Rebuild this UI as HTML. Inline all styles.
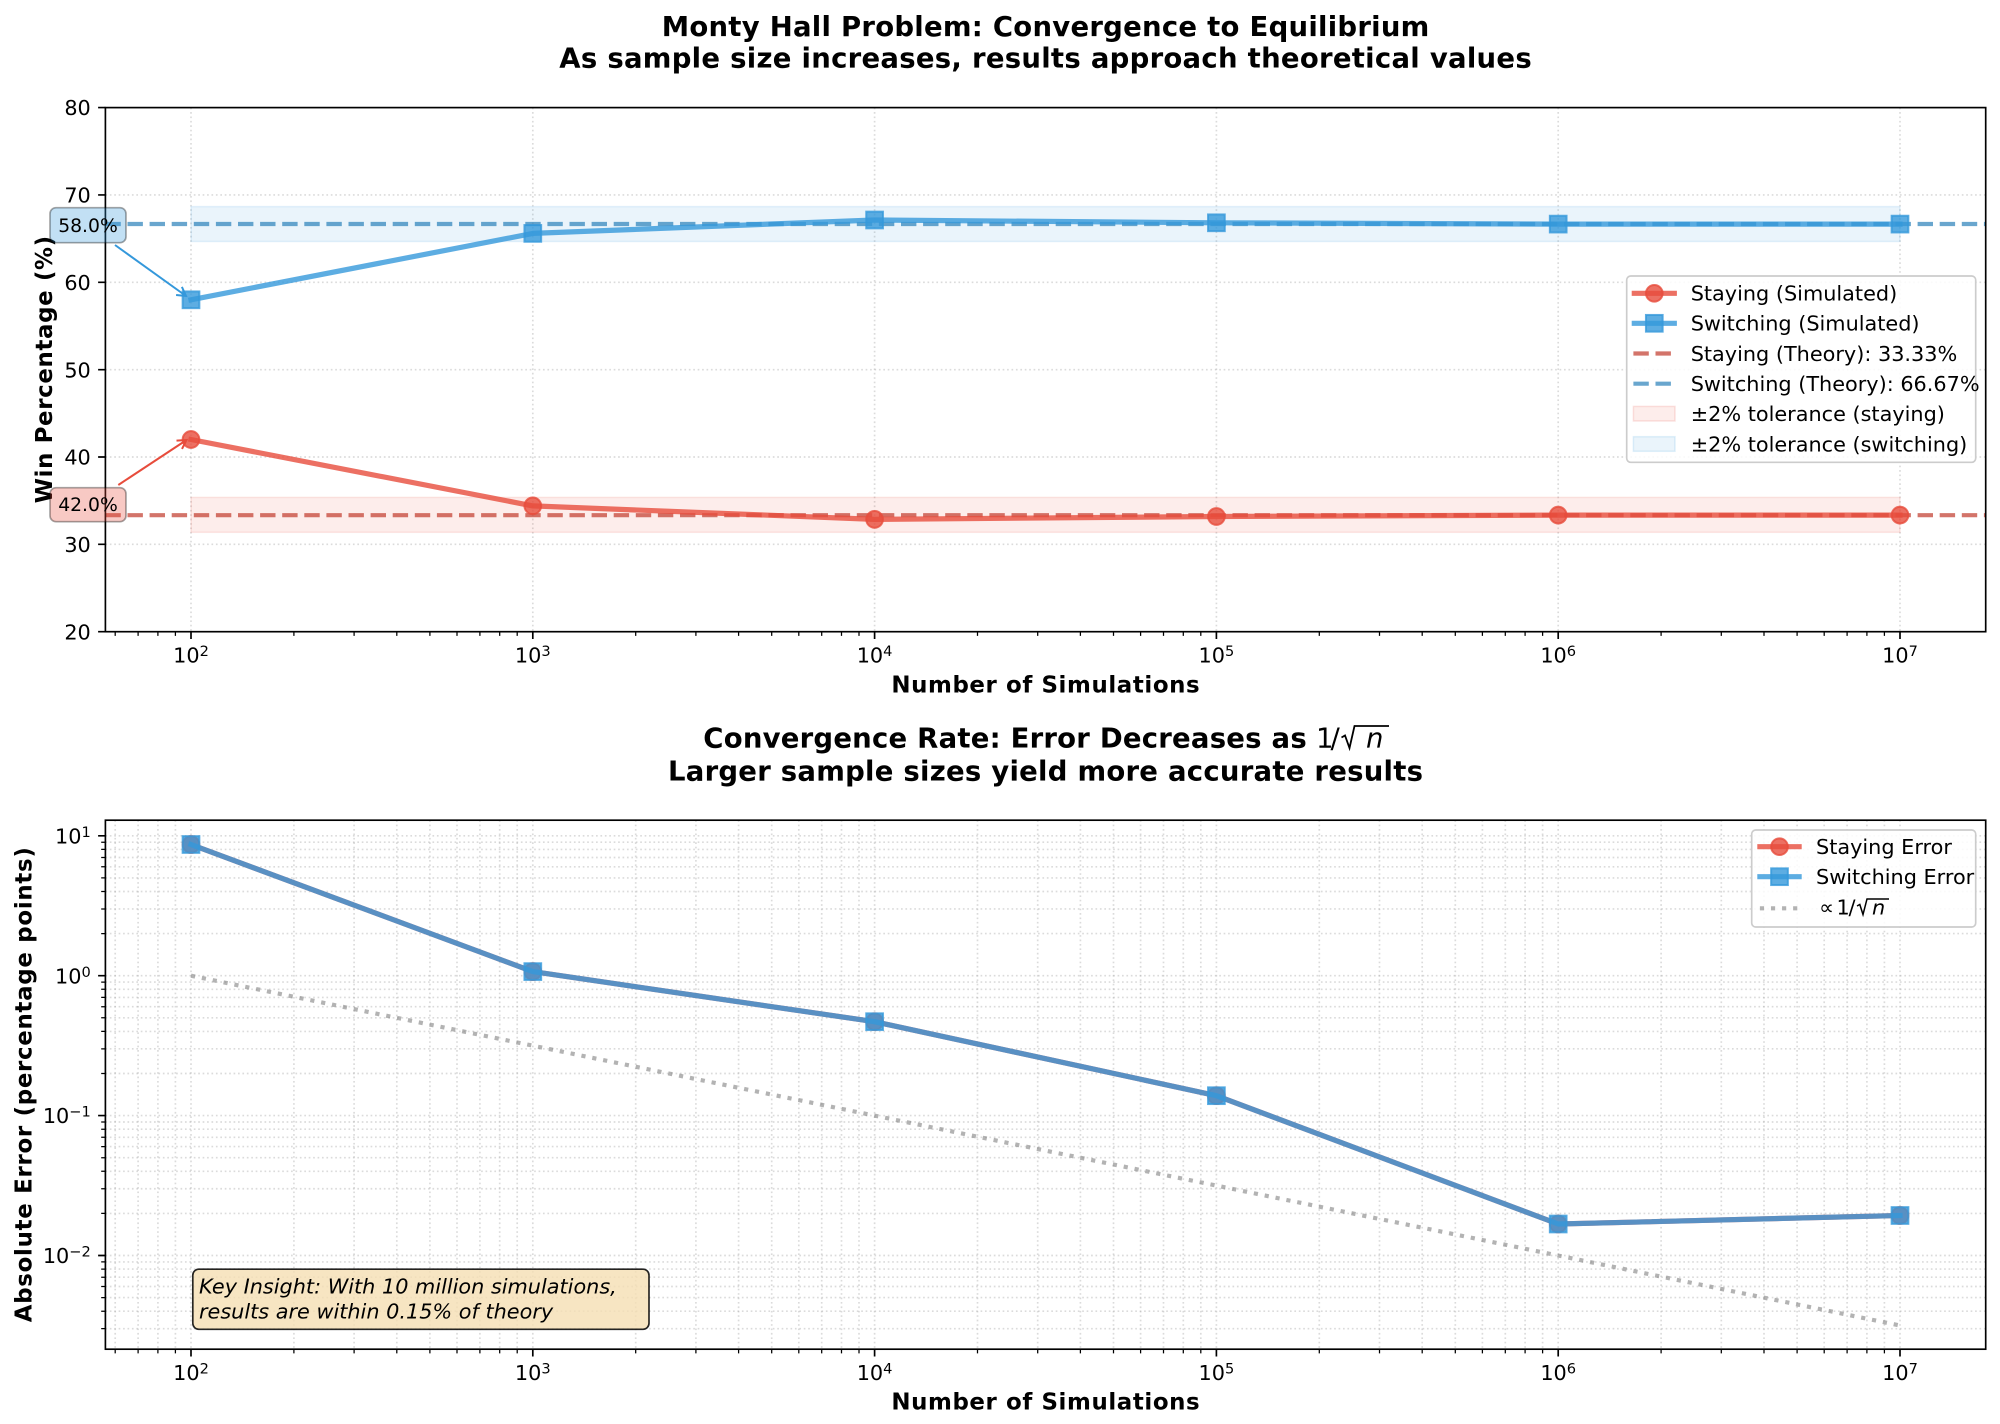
<!DOCTYPE html>
<html><head><meta charset="utf-8"><style>
html,body{margin:0;padding:0;background:#fff;}
svg{display:block;}
text{font-family:"DejaVu Sans","Liberation Sans",sans-serif;fill:#000;}
</style></head><body>
<svg width="2000" height="1424" viewBox="0 0 2000 1424" xmlns="http://www.w3.org/2000/svg">
<rect width="2000" height="1424" fill="#fff"/>

<!-- ================= TOP PANEL ================= -->
<text x="1045.5" y="36" text-anchor="middle" font-size="27.5" font-weight="bold" textLength="767.6">Monty Hall Problem: Convergence to Equilibrium</text>
<text x="1045.5" y="67.7" text-anchor="middle" font-size="27.5" font-weight="bold" textLength="972.4">As sample size increases, results approach theoretical values</text>

<!-- grid -->
<g stroke="#b0b0b0" stroke-opacity="0.45" stroke-width="1.67" stroke-dasharray="1.67 2.75" fill="none">
<path d="M191 107.6V631.7M532.8 107.6V631.7M874.6 107.6V631.7M1216.4 107.6V631.7M1558.2 107.6V631.7M1900 107.6V631.7"/>
<path d="M105.4 544.35H1985.7M105.4 457H1985.7M105.4 369.65H1985.7M105.4 282.3H1985.7M105.4 194.95H1985.7"/>
</g>

<!-- tolerance bands -->
<rect x="191" y="497.4" width="1709" height="34.9" fill="#e74c3c" fill-opacity="0.1" stroke="#e74c3c" stroke-opacity="0.12" stroke-width="1.5"/>
<rect x="191" y="206.6" width="1709" height="34.9" fill="#3498db" fill-opacity="0.1" stroke="#3498db" stroke-opacity="0.12" stroke-width="1.5"/>

<!-- theory lines -->
<line x1="105.4" y1="515.2" x2="1985.7" y2="515.2" stroke="#c0392b" stroke-opacity="0.7" stroke-width="4.17" stroke-dasharray="15.4 6.7"/>
<line x1="105.4" y1="224.0" x2="1985.7" y2="224.0" stroke="#2980b9" stroke-opacity="0.7" stroke-width="4.17" stroke-dasharray="15.4 6.7"/>

<!-- staying simulated -->
<polyline points="191,439.5 532.8,505.9 874.6,519.4 1216.4,516.5 1558.2,515.1 1900,515.1" fill="none" stroke="#e74c3c" stroke-opacity="0.8" stroke-width="5.2" stroke-linejoin="round" stroke-linecap="square"/>
<g fill="#e74c3c" fill-opacity="0.8" stroke="#e74c3c" stroke-opacity="0.8" stroke-width="2">
<circle cx="191" cy="439.5" r="8.35"/><circle cx="532.8" cy="505.9" r="8.35"/><circle cx="874.6" cy="519.4" r="8.35"/>
<circle cx="1216.4" cy="516.5" r="8.35"/><circle cx="1558.2" cy="515.1" r="8.35"/><circle cx="1900" cy="515.1" r="8.35"/>
</g>

<!-- switching simulated -->
<polyline points="191,299.8 532.8,233.4 874.6,220.0 1216.4,222.8 1558.2,224.1 1900,224.1" fill="none" stroke="#3498db" stroke-opacity="0.8" stroke-width="5.2" stroke-linejoin="round" stroke-linecap="square"/>
<g fill="#3498db" fill-opacity="0.8" stroke="#3498db" stroke-opacity="0.8" stroke-width="2">
<rect x="182.65" y="291.45" width="16.7" height="16.7"/><rect x="524.45" y="225.05" width="16.7" height="16.7"/>
<rect x="866.25" y="211.65" width="16.7" height="16.7"/><rect x="1208.05" y="214.45" width="16.7" height="16.7"/>
<rect x="1549.85" y="215.75" width="16.7" height="16.7"/><rect x="1891.65" y="215.75" width="16.7" height="16.7"/>
</g>

<!-- spines -->
<rect x="105.4" y="107.6" width="1880.3" height="524.1" fill="none" stroke="#000" stroke-width="1.67"/>
<!-- ticks -->
<g stroke="#000" fill="none">
<path stroke-width="1.67" d="M191 631.7v7.3M532.8 631.7v7.3M874.6 631.7v7.3M1216.4 631.7v7.3M1558.2 631.7v7.3M1900 631.7v7.3M105.4 631.7h-7.3M105.4 544.35h-7.3M105.4 457h-7.3M105.4 369.65h-7.3M105.4 282.3h-7.3M105.4 194.95h-7.3M105.4 107.6h-7.3"/>
<path stroke-width="1.25" d="M115.2 631.7v4.2M138.1 631.7v4.2M157.9 631.7v4.2M175.4 631.7v4.2M293.9 631.7v4.2M354.1 631.7v4.2M396.8 631.7v4.2M429.9 631.7v4.2M457 631.7v4.2M479.9 631.7v4.2M499.7 631.7v4.2M517.2 631.7v4.2M635.7 631.7v4.2M695.9 631.7v4.2M738.6 631.7v4.2M771.7 631.7v4.2M798.8 631.7v4.2M821.7 631.7v4.2M841.5 631.7v4.2M859 631.7v4.2M977.5 631.7v4.2M1037.7 631.7v4.2M1080.4 631.7v4.2M1113.5 631.7v4.2M1140.6 631.7v4.2M1163.5 631.7v4.2M1183.3 631.7v4.2M1200.8 631.7v4.2M1319.3 631.7v4.2M1379.5 631.7v4.2M1422.2 631.7v4.2M1455.3 631.7v4.2M1482.4 631.7v4.2M1505.3 631.7v4.2M1525.1 631.7v4.2M1542.6 631.7v4.2M1661.1 631.7v4.2M1721.3 631.7v4.2M1764 631.7v4.2M1797.1 631.7v4.2M1824.2 631.7v4.2M1847.1 631.7v4.2M1866.9 631.7v4.2M1884.4 631.7v4.2"/>
</g>
<!-- tick labels -->
<g font-size="20.8" text-anchor="end">
<text x="90.8" y="639.3">20</text><text x="90.8" y="551.95">30</text><text x="90.8" y="464.6">40</text>
<text x="90.8" y="377.25">50</text><text x="90.8" y="289.9">60</text><text x="90.8" y="202.55">70</text><text x="90.8" y="115.2">80</text>
</g>
<g font-size="20.8" text-anchor="middle">
<text x="191" y="662.3">10<tspan font-size="14.6" dy="-6.5">2</tspan></text>
<text x="532.8" y="662.3">10<tspan font-size="14.6" dy="-6.5">3</tspan></text>
<text x="874.6" y="662.3">10<tspan font-size="14.6" dy="-6.5">4</tspan></text>
<text x="1216.4" y="662.3">10<tspan font-size="14.6" dy="-6.5">5</tspan></text>
<text x="1558.2" y="662.3">10<tspan font-size="14.6" dy="-6.5">6</tspan></text>
<text x="1900" y="662.3">10<tspan font-size="14.6" dy="-6.5">7</tspan></text>
</g>
<text x="1045.5" y="692.6" text-anchor="middle" font-size="22.9" font-weight="bold" textLength="308.3">Number of Simulations</text>
<text transform="translate(51.8,369.6) rotate(-90)" text-anchor="middle" font-size="22.9" font-weight="bold" textLength="267.4">Win Percentage (%)</text>

<!-- annotations -->
<line x1="115" y1="245" x2="186" y2="296" stroke="#3498db" stroke-width="2"/>
<path d="M181.9 286.9L186 296L176.1 295" fill="none" stroke="#3498db" stroke-width="2"/>
<rect x="50" y="207.7" width="76" height="35" rx="6" fill="#3498db" fill-opacity="0.3" stroke="#000" stroke-opacity="0.35" stroke-width="1.67"/>
<text x="88" y="231.8" text-anchor="middle" font-size="18.75">58.0%</text>

<line x1="118.3" y1="485" x2="186.5" y2="440" stroke="#e74c3c" stroke-width="2"/>
<path d="M176.5 440.6L186.5 440L182 448.9" fill="none" stroke="#e74c3c" stroke-width="2"/>
<rect x="50" y="487.7" width="76" height="34" rx="6" fill="#e74c3c" fill-opacity="0.3" stroke="#000" stroke-opacity="0.35" stroke-width="1.67"/>
<text x="88" y="511.1" text-anchor="middle" font-size="18.75">42.0%</text>

<!-- top legend -->
<rect x="1626.7" y="276" width="349" height="186.3" rx="4" fill="#fff" fill-opacity="0.85" stroke="#cccccc" stroke-width="1.67"/>
<line x1="1634.3" y1="293.3" x2="1674.3" y2="293.3" stroke="#e74c3c" stroke-opacity="0.8" stroke-width="5.2" stroke-linecap="square"/>
<circle cx="1654.3" cy="293.3" r="8.35" fill="#e74c3c" fill-opacity="0.8" stroke="#e74c3c" stroke-opacity="0.8" stroke-width="2"/>
<line x1="1634.3" y1="323.3" x2="1674.3" y2="323.3" stroke="#3498db" stroke-opacity="0.8" stroke-width="5.2" stroke-linecap="square"/>
<rect x="1645.95" y="314.95" width="16.7" height="16.7" fill="#3498db" fill-opacity="0.8" stroke="#3498db" stroke-opacity="0.8" stroke-width="2"/>
<line x1="1633.4" y1="353.5" x2="1675" y2="353.5" stroke="#c0392b" stroke-opacity="0.7" stroke-width="4.17" stroke-dasharray="15.4 6.7"/>
<line x1="1633.4" y1="383.7" x2="1675" y2="383.7" stroke="#2980b9" stroke-opacity="0.7" stroke-width="4.17" stroke-dasharray="15.4 6.7"/>
<rect x="1633.4" y="406.4" width="41.6" height="14.6" fill="#e74c3c" fill-opacity="0.1" stroke="#e74c3c" stroke-opacity="0.15" stroke-width="1.5"/>
<rect x="1633.4" y="436.7" width="41.6" height="14.6" fill="#3498db" fill-opacity="0.1" stroke="#3498db" stroke-opacity="0.15" stroke-width="1.5"/>
<g font-size="20.8">
<text x="1690.7" y="300.7">Staying (Simulated)</text>
<text x="1690.7" y="330.7">Switching (Simulated)</text>
<text x="1690.7" y="360.9">Staying (Theory): 33.33%</text>
<text x="1690.7" y="391.1">Switching (Theory): 66.67%</text>
<text x="1690.7" y="421.1">±2% tolerance (staying)</text>
<text x="1690.7" y="451.4">±2% tolerance (switching)</text>
</g>

<!-- ================= BOTTOM PANEL ================= -->
<text x="703.3" y="747.7" font-size="27.5" font-weight="bold" textLength="603.4">Convergence Rate: Error Decreases as</text>
<text x="1316" y="747.7" font-size="27.5">1</text>
<text x="1330.5" y="747.7" font-size="27.5">/</text>
<path d="M1341.5 737.5L1345 735.5L1349.5 748L1354.5 726H1389" fill="none" stroke="#000" stroke-width="1.8"/>
<text x="1366" y="747.7" font-size="27.5" font-style="italic">n</text>
<text x="1045.5" y="780.7" text-anchor="middle" font-size="27.5" font-weight="bold" textLength="755">Larger sample sizes yield more accurate results</text>

<!-- grid (major + minor) -->
<g stroke="#b0b0b0" stroke-opacity="0.45" stroke-width="1.67" stroke-dasharray="1.67 2.75" fill="none">
<path d="M191 820.2V1349.2M532.8 820.2V1349.2M874.6 820.2V1349.2M1216.4 820.2V1349.2M1558.2 820.2V1349.2M1900 820.2V1349.2M115.2 820.2V1349.2M138.1 820.2V1349.2M157.9 820.2V1349.2M175.4 820.2V1349.2M293.9 820.2V1349.2M354.1 820.2V1349.2M396.8 820.2V1349.2M429.9 820.2V1349.2M457 820.2V1349.2M479.9 820.2V1349.2M499.7 820.2V1349.2M517.2 820.2V1349.2M635.7 820.2V1349.2M695.9 820.2V1349.2M738.6 820.2V1349.2M771.7 820.2V1349.2M798.8 820.2V1349.2M821.7 820.2V1349.2M841.5 820.2V1349.2M859 820.2V1349.2M977.5 820.2V1349.2M1037.7 820.2V1349.2M1080.4 820.2V1349.2M1113.5 820.2V1349.2M1140.6 820.2V1349.2M1163.5 820.2V1349.2M1183.3 820.2V1349.2M1200.8 820.2V1349.2M1319.3 820.2V1349.2M1379.5 820.2V1349.2M1422.2 820.2V1349.2M1455.3 820.2V1349.2M1482.4 820.2V1349.2M1505.3 820.2V1349.2M1525.1 820.2V1349.2M1542.6 820.2V1349.2M1661.1 820.2V1349.2M1721.3 820.2V1349.2M1764 820.2V1349.2M1797.1 820.2V1349.2M1824.2 820.2V1349.2M1847.1 820.2V1349.2M1866.9 820.2V1349.2M1884.4 820.2V1349.2"/>
<path d="M105.4 835.8H1985.7M105.4 975.7H1985.7M105.4 1115.6H1985.7M105.4 1255.5H1985.7M105.4 933.6H1985.7M105.4 908.95H1985.7M105.4 891.5H1985.7M105.4 877.9H1985.7M105.4 866.8H1985.7M105.4 857.5H1985.7M105.4 849.4H1985.7M105.4 842.2H1985.7M105.4 1073.5H1985.7M105.4 1048.85H1985.7M105.4 1031.4H1985.7M105.4 1017.8H1985.7M105.4 1006.7H1985.7M105.4 997.4H1985.7M105.4 989.3H1985.7M105.4 982.1H1985.7M105.4 1213.4H1985.7M105.4 1188.75H1985.7M105.4 1171.3H1985.7M105.4 1157.7H1985.7M105.4 1146.6H1985.7M105.4 1137.3H1985.7M105.4 1129.2H1985.7M105.4 1122H1985.7M105.4 1328.65H1985.7M105.4 1311.2H1985.7M105.4 1297.6H1985.7M105.4 1286.5H1985.7M105.4 1277.2H1985.7M105.4 1269.1H1985.7M105.4 1261.9H1985.7"/>
</g>

<!-- reference 1/sqrt(n) -->
<line x1="191" y1="975.7" x2="1900" y2="1325.5" stroke="#808080" stroke-opacity="0.6" stroke-width="4.17" stroke-dasharray="4.17 6.9"/>

<!-- staying error (hidden under switching) -->
<polyline points="191,844.5 532.8,971.6 874.6,1021.7 1216.4,1095.7 1558.2,1224 1900,1215.5" fill="none" stroke="#e74c3c" stroke-opacity="0.8" stroke-width="5.2" stroke-linejoin="round" stroke-linecap="square"/>
<g fill="#e74c3c" fill-opacity="0.8" stroke="#e74c3c" stroke-opacity="0.8" stroke-width="2">
<circle cx="191" cy="844.5" r="8.35"/><circle cx="532.8" cy="971.6" r="8.35"/><circle cx="874.6" cy="1021.7" r="8.35"/>
<circle cx="1216.4" cy="1095.7" r="8.35"/><circle cx="1558.2" cy="1224" r="8.35"/><circle cx="1900" cy="1215.5" r="8.35"/>
</g>
<!-- switching error -->
<polyline points="191,844.5 532.8,971.6 874.6,1021.7 1216.4,1095.7 1558.2,1224 1900,1215.5" fill="none" stroke="#3498db" stroke-opacity="0.8" stroke-width="5.2" stroke-linejoin="round" stroke-linecap="square"/>
<g fill="#3498db" fill-opacity="0.8" stroke="#3498db" stroke-opacity="0.8" stroke-width="2">
<rect x="182.65" y="836.15" width="16.7" height="16.7"/><rect x="524.45" y="963.25" width="16.7" height="16.7"/>
<rect x="866.25" y="1013.35" width="16.7" height="16.7"/><rect x="1208.05" y="1087.35" width="16.7" height="16.7"/>
<rect x="1549.85" y="1215.65" width="16.7" height="16.7"/><rect x="1891.65" y="1207.15" width="16.7" height="16.7"/>
</g>

<!-- spines -->
<rect x="105.4" y="820.2" width="1880.3" height="529" fill="none" stroke="#000" stroke-width="1.67"/>
<g stroke="#000" fill="none">
<path stroke-width="1.67" d="M191 1349.2v7.3M532.8 1349.2v7.3M874.6 1349.2v7.3M1216.4 1349.2v7.3M1558.2 1349.2v7.3M1900 1349.2v7.3M105.4 835.8h-7.3M105.4 975.7h-7.3M105.4 1115.6h-7.3M105.4 1255.5h-7.3"/>
<path stroke-width="1.25" d="M115.2 1349.2v4.2M138.1 1349.2v4.2M157.9 1349.2v4.2M175.4 1349.2v4.2M293.9 1349.2v4.2M354.1 1349.2v4.2M396.8 1349.2v4.2M429.9 1349.2v4.2M457 1349.2v4.2M479.9 1349.2v4.2M499.7 1349.2v4.2M517.2 1349.2v4.2M635.7 1349.2v4.2M695.9 1349.2v4.2M738.6 1349.2v4.2M771.7 1349.2v4.2M798.8 1349.2v4.2M821.7 1349.2v4.2M841.5 1349.2v4.2M859 1349.2v4.2M977.5 1349.2v4.2M1037.7 1349.2v4.2M1080.4 1349.2v4.2M1113.5 1349.2v4.2M1140.6 1349.2v4.2M1163.5 1349.2v4.2M1183.3 1349.2v4.2M1200.8 1349.2v4.2M1319.3 1349.2v4.2M1379.5 1349.2v4.2M1422.2 1349.2v4.2M1455.3 1349.2v4.2M1482.4 1349.2v4.2M1505.3 1349.2v4.2M1525.1 1349.2v4.2M1542.6 1349.2v4.2M1661.1 1349.2v4.2M1721.3 1349.2v4.2M1764 1349.2v4.2M1797.1 1349.2v4.2M1824.2 1349.2v4.2M1847.1 1349.2v4.2M1866.9 1349.2v4.2M1884.4 1349.2v4.2M105.4 933.6h-4.2M105.4 908.95h-4.2M105.4 891.5h-4.2M105.4 877.9h-4.2M105.4 866.8h-4.2M105.4 857.5h-4.2M105.4 849.4h-4.2M105.4 842.2h-4.2M105.4 1073.5h-4.2M105.4 1048.85h-4.2M105.4 1031.4h-4.2M105.4 1017.8h-4.2M105.4 1006.7h-4.2M105.4 997.4h-4.2M105.4 989.3h-4.2M105.4 982.1h-4.2M105.4 1213.4h-4.2M105.4 1188.75h-4.2M105.4 1171.3h-4.2M105.4 1157.7h-4.2M105.4 1146.6h-4.2M105.4 1137.3h-4.2M105.4 1129.2h-4.2M105.4 1122h-4.2M105.4 1328.65h-4.2M105.4 1311.2h-4.2M105.4 1297.6h-4.2M105.4 1286.5h-4.2M105.4 1277.2h-4.2M105.4 1269.1h-4.2M105.4 1261.9h-4.2"/>
</g>
<g font-size="20.8" text-anchor="end">
<text x="90.8" y="843.4">10<tspan font-size="14.6" dy="-6.5">1</tspan></text>
<text x="90.8" y="983.3">10<tspan font-size="14.6" dy="-6.5">0</tspan></text>
<text x="90.8" y="1123.2">10<tspan font-size="14.6" dy="-6.5">−1</tspan></text>
<text x="90.8" y="1263.1">10<tspan font-size="14.6" dy="-6.5">−2</tspan></text>
</g>
<g font-size="20.8" text-anchor="middle">
<text x="191" y="1379.8">10<tspan font-size="14.6" dy="-6.5">2</tspan></text>
<text x="532.8" y="1379.8">10<tspan font-size="14.6" dy="-6.5">3</tspan></text>
<text x="874.6" y="1379.8">10<tspan font-size="14.6" dy="-6.5">4</tspan></text>
<text x="1216.4" y="1379.8">10<tspan font-size="14.6" dy="-6.5">5</tspan></text>
<text x="1558.2" y="1379.8">10<tspan font-size="14.6" dy="-6.5">6</tspan></text>
<text x="1900" y="1379.8">10<tspan font-size="14.6" dy="-6.5">7</tspan></text>
</g>
<text x="1045.5" y="1409.7" text-anchor="middle" font-size="22.9" font-weight="bold" textLength="308.3">Number of Simulations</text>
<text transform="translate(31.5,1084.7) rotate(-90)" text-anchor="middle" font-size="22.9" font-weight="bold" textLength="475">Absolute Error (percentage points)</text>

<!-- key insight box -->
<rect x="192.8" y="1269.2" width="456.2" height="60.1" rx="6" fill="#f5deb3" fill-opacity="0.8" stroke="#000" stroke-opacity="0.85" stroke-width="1.67"/>
<g font-size="20.8" font-style="italic">
<text x="199" y="1293.4">Key Insight: With 10 million simulations,</text>
<text x="199" y="1318.3">results are within 0.15% of theory</text>
</g>

<!-- bottom legend -->
<rect x="1751.7" y="830" width="224" height="97" rx="4" fill="#fff" fill-opacity="0.85" stroke="#cccccc" stroke-width="1.67"/>
<line x1="1759.9" y1="846.7" x2="1799.1" y2="846.7" stroke="#e74c3c" stroke-opacity="0.8" stroke-width="5.2" stroke-linecap="square"/>
<circle cx="1779.5" cy="846.7" r="8.35" fill="#e74c3c" fill-opacity="0.8" stroke="#e74c3c" stroke-opacity="0.8" stroke-width="2"/>
<line x1="1759.9" y1="876.7" x2="1799.1" y2="876.7" stroke="#3498db" stroke-opacity="0.8" stroke-width="5.2" stroke-linecap="square"/>
<rect x="1771.15" y="868.35" width="16.7" height="16.7" fill="#3498db" fill-opacity="0.8" stroke="#3498db" stroke-opacity="0.8" stroke-width="2"/>
<line x1="1759.9" y1="908.3" x2="1799.1" y2="908.3" stroke="#808080" stroke-opacity="0.6" stroke-width="4.17" stroke-dasharray="4.17 6.9"/>
<g font-size="20.8">
<text x="1816" y="854.1">Staying Error</text>
<text x="1816" y="884.1">Switching Error</text>
<text x="1819" y="914.3">∝</text>
<text x="1836.5" y="914.3">1</text>
<text x="1848.5" y="914.3">/</text>
</g>
<path d="M1857 906L1859.8 904.5L1863 914.5L1867 899H1889" fill="none" stroke="#000" stroke-width="1.5"/>
<text x="1872" y="914.3" font-size="20.8" font-style="italic">n</text>
</svg>
</body></html>
